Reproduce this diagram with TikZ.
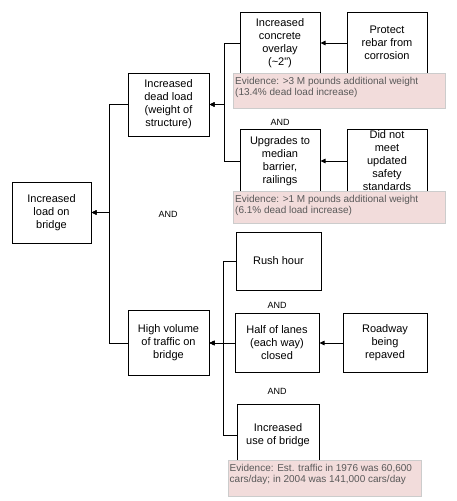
\documentclass[tikz,border=0pt]{standalone}
\usepackage{fontspec}
\setmainfont{Liberation Sans}
\usetikzlibrary{arrows.meta}

\definecolor{evfill}{RGB}{242,220,219}
\definecolor{evline}{RGB}{204,204,204}
\definecolor{evtext}{RGB}{89,89,89}

\begin{document}
\begin{tikzpicture}[x=1pt, y=-1pt,
    box/.style={draw=black, line width=1pt, fill=white, align=center, inner sep=0pt,
        font=\fontsize{11}{13}\selectfont},
    sz/.style 2 args={minimum width=#1pt, minimum height=#2pt},
    evid/.style={draw=evline, fill=evfill, line width=0.8pt, inner sep=0pt},
    evnote/.style={anchor=north west, text=evtext, align=left, inner sep=0pt,
        font=\fontsize{10}{11}\selectfont},
    andlbl/.style={inner sep=0pt, font=\fontsize{9}{11}\selectfont},
    link/.style={draw=black, line width=0.8pt},
    arr/.style={link, -{Triangle[length=5pt, width=4.5pt]}}]

    % Page frame (pixels of the reference, y going down)
    \useasboundingbox (0,0) rectangle (457,501);

    % Top event
    \node[box, sz={79}{61}] (load) at (51.5,212.5) {Increased\\load on\\bridge};

    % Two main causes
    \node[box, sz={81}{63}] (dead) at (168.5,104.5) {Increased\\dead load\\(weight of\\structure)};
    \node[box, sz={81}{65}] (high) at (168.5,343) {High volume\\of traffic on\\bridge};
    \node[andlbl] (and0) at (168,214) {AND};

    % Dead load branch
    \node[box, sz={80}{62}] (overlay) at (280,43) {Increased\\concrete\\overlay\\(\textasciitilde2\textquotedbl)};
    \node[box, sz={80}{62}] (protect) at (387,43) {Protect\\rebar from\\corrosion};
    \node[andlbl] (and1) at (280,122) {AND};
    \node[box, sz={80}{64}] (upgrades) at (280,161) {Upgrades to\\median\\barrier,\\railings};
    \node[box, sz={80}{64}] (didnot) at (387,161) {Did not\\meet\\updated\\safety\\standards};

    % Traffic branch
    \node[box, sz={85}{58}] (rush) at (278.5,261) {Rush hour};
    \node[andlbl] (and2) at (277,305) {AND};
    \node[box, sz={84}{59}] (half) at (277,343) {Half of lanes\\(each way)\\closed};
    \node[box, sz={84}{59}] (road) at (385,343) {Roadway\\being\\repaved};
    \node[andlbl] (and3) at (277,391) {AND};
    \node[box, sz={82}{62}] (use) at (278,435) {Increased\\use of bridge};

    % Bus points where the branches join
    \coordinate (lbus) at (109,212.5);
    \coordinate (dbus) at (224,104.5);
    \coordinate (tbus) at (223,343);

    % Connectors into the top event
    \draw[arr] (dead.west) -| (lbus) -- (load.east);
    \draw[arr] (high.west) -| (lbus) -- (load.east);

    % Connectors into dead load
    \draw[arr] (overlay.west) -| (dbus) -- (dead.east);
    \draw[arr] (upgrades.west) -| (dbus) -- (dead.east);
    \draw[arr] (protect.west) -- (overlay.east);
    \draw[arr] (didnot.west) -- (upgrades.east);

    % Connectors into high volume
    \draw[arr] (rush.west) -| (tbus) -- (high.east);
    \draw[arr] (half.west) -- (high.east);
    \draw[arr] (use.west) -| (tbus) -- (high.east);
    \draw[arr] (road.west) -- (half.east);

    % Evidence notes, laid over the box bottoms
    \node[evid, sz={212}{35}, anchor=north west] (ev1) at (233,73) {};
    \node[evnote] (ev1txt) at ([shift={(2,4)}]ev1.north west)
        {Evidence: >3 M pounds additional weight\\(13.4\% dead load increase)};
    \node[evid, sz={212}{32}, anchor=north west] (ev2) at (233,191) {};
    \node[evnote] (ev2txt) at ([shift={(2,4)}]ev2.north west)
        {Evidence: >1 M pounds additional weight\\(6.1\% dead load increase)};
    \node[evid, sz={193}{36}, anchor=north west] (ev3) at (228,460) {};
    \node[evnote] (ev3txt) at ([shift={(1.5,4)}]ev3.north west)
        {Evidence: Est. traffic in 1976 was 60,600\\cars/day; in 2004 was 141,000 cars/day};

\end{tikzpicture}
\end{document}
